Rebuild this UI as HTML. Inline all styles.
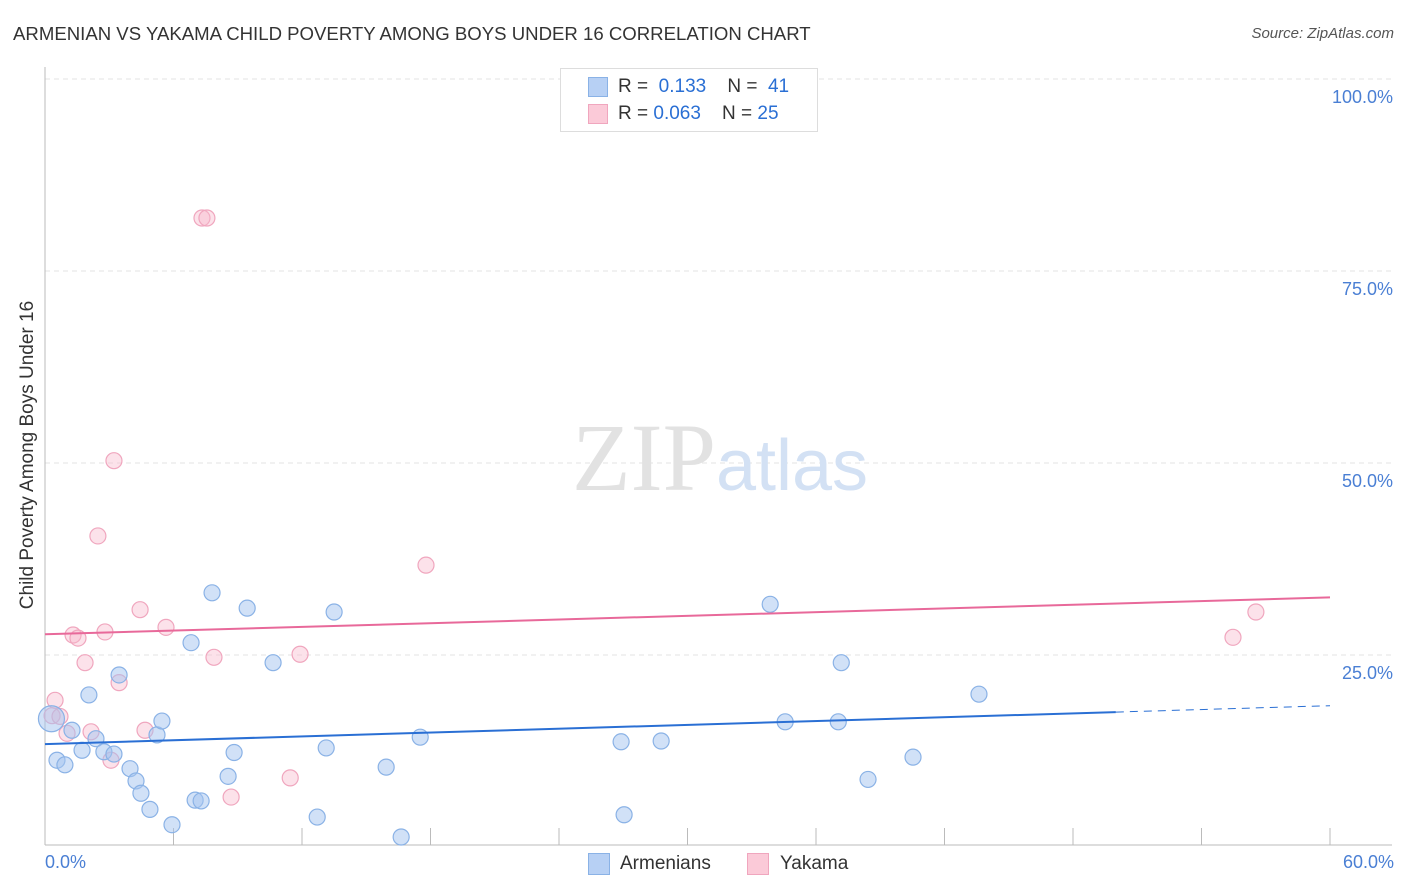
<!DOCTYPE html>
<html><head><meta charset="utf-8"><style>
body{margin:0;background:#fff;font-family:"Liberation Sans",sans-serif;}
#c{position:relative;width:1406px;height:892px;overflow:hidden}
.t{position:absolute;white-space:nowrap}
</style></head><body>
<div id="c">
<div class="t" style="left:13px;top:23px;font-size:18.6px;color:#333">ARMENIAN VS YAKAMA CHILD POVERTY AMONG BOYS UNDER 16 CORRELATION CHART</div>
<div class="t" style="right:12px;top:25px;font-size:15px;color:#555;font-style:italic">Source: ZipAtlas.com</div>
<svg id="s" width="1406" height="892" style="position:absolute;left:0;top:0"></svg>
</div>
<script>
const yTicks=[25,50,75,100];
const yTickLabels=["25.0%","50.0%","75.0%","100.0%"];
const armX=[0.3,0.56,0.93,1.26,1.73,2.05,2.38,2.75,3.22,3.46,3.97,4.25,4.48,4.9,5.23,5.46,5.93,6.82,7.01,7.29,7.8,8.55,8.83,9.44,10.65,12.71,13.13,13.5,15.93,16.63,17.52,26.9,27.04,28.77,33.86,34.56,37.04,37.18,38.43,40.53,43.61];
const armY=[16.7,11.3,10.7,15.2,12.6,19.8,14.1,12.4,12.1,22.4,10.2,8.6,7.0,4.9,14.6,16.4,2.9,26.6,6.1,6.0,33.1,9.2,12.3,31.1,24.0,3.9,12.9,30.6,10.4,1.3,14.3,13.7,4.2,13.8,31.6,16.3,16.3,24.0,8.8,11.7,19.9];
const yakX=[0.33,0.47,1.03,1.31,1.54,1.87,2.15,2.47,2.8,3.08,3.22,3.46,4.44,4.67,5.65,7.33,7.56,7.89,8.69,11.45,11.91,17.79,55.47,56.54,0.7];
const yakY=[17.1,19.1,14.8,27.6,27.2,24.0,15.0,40.5,28.0,11.3,50.3,21.4,30.9,15.2,28.6,81.9,81.9,24.7,6.5,9.0,25.1,36.7,27.3,30.6,17.0];
const armTrend=[13.4,18.4];
const yakTrend=[27.7,32.5];
const X=v=>45+v/60*1285, Y=v=>847-v/25*192;
const s=document.getElementById('s');const NS='http://www.w3.org/2000/svg';
function el(t,a,p){const e=document.createElementNS(NS,t);for(const k in a)e.setAttribute(k,a[k]);(p||s).appendChild(e);return e;}
yTicks.forEach((v,i)=>{
 const g=el('line',{x1:45,x2:1392,y1:Y(v),y2:Y(v),stroke:'#e3e3e3','stroke-dasharray':'5,4'});
 
 const t=el('text',{x:1393,y:Y(v)+24,'text-anchor':'end','font-size':18,fill:'#4a7fd4','font-family':'Liberation Sans'});
 t.textContent=yTickLabels[i];
});
let a=el('line',{x1:45,x2:45,y1:67,y2:845,stroke:'#bbb'});
a=el('line',{x1:45,x2:1392,y1:845,y2:845,stroke:'#bbb'});
for(let i=0;i<=10;i++){const tk=el('line',{x1:X(i*6),x2:X(i*6),y1:828,y2:845,stroke:'#bbb'});}
let w=el('text',{x:720,y:490,'text-anchor':'middle','font-size':96,'font-family':'Liberation Serif',fill:'#e2e2e2'});
w.innerHTML='ZIP<tspan fill="#d3e1f4" font-family="Liberation Sans" font-size="72">atlas</tspan>';
yakX.forEach((v,i)=>{const c=el('circle',{cx:X(v),cy:Y(yakY[i]),r:8,fill:'rgba(248,182,202,0.4)',stroke:'#f0a6be','stroke-width':1.2});});
armX.forEach((v,i)=>{const c=el('circle',{cx:X(v),cy:Y(armY[i]),r:i==0?13:8,fill:'rgba(164,196,240,0.5)',stroke:'#8ab2e6','stroke-width':1.2});});
const bx=50;const by=armTrend[0]+(armTrend[1]-armTrend[0])*bx/60;
let l=el('line',{x1:X(0),y1:Y(armTrend[0]),x2:X(bx),y2:Y(by),stroke:'#2a6fd4','stroke-width':2});
l=el('line',{x1:X(bx),y1:Y(by),x2:X(60),y2:Y(armTrend[1]),stroke:'#2a6fd4','stroke-width':1,'stroke-dasharray':'8,6'});
l=el('line',{x1:X(0),y1:Y(yakTrend[0]),x2:X(60),y2:Y(yakTrend[1]),stroke:'#e8699a','stroke-width':2});
</script>
<div class="t" style="left:-132px;top:444px;transform:rotate(-90deg);font-size:19px;color:#333;width:320px;text-align:center">Child Poverty Among Boys Under 16</div>
<div class="t" style="left:45px;top:852px;font-size:18px;color:#4a7fd4">0.0%</div>
<div class="t" style="right:12px;top:852px;font-size:18px;color:#4a7fd4">60.0%</div>
<div style="position:absolute;left:560px;top:68px;width:256px;height:62px;border:1px solid #ddd;background:#fff;font-size:19px;color:#333">
 <div style="position:absolute;left:27px;top:8px;width:18px;height:18px;background:#b7d0f4;border:1px solid #8ab2e6"></div>
 <div class="t" style="left:57px;top:7px">R = &nbsp;<span style="color:#2a6fd4">0.133</span>&nbsp;&nbsp;&nbsp; N = &nbsp;<span style="color:#2a6fd4">41</span></div>
 <div style="position:absolute;left:27px;top:35px;width:18px;height:18px;background:#fbcad8;border:1px solid #f0a6be"></div>
 <div class="t" style="left:57px;top:34px">R = <span style="color:#2a6fd4">0.063</span>&nbsp;&nbsp;&nbsp; N = <span style="color:#2a6fd4">25</span></div>
</div>
<div style="position:absolute;left:588px;top:853px;font-size:19px;color:#333">
 <div style="position:absolute;left:0;top:0;width:20px;height:20px;background:#b7d0f4;border:1px solid #8ab2e6"></div>
 <div class="t" style="left:32px;top:0">Armenians</div>
 <div style="position:absolute;left:159px;top:0;width:20px;height:20px;background:#fbcad8;border:1px solid #f0a6be"></div>
 <div class="t" style="left:192px;top:0">Yakama</div>
</div>
</body></html>
